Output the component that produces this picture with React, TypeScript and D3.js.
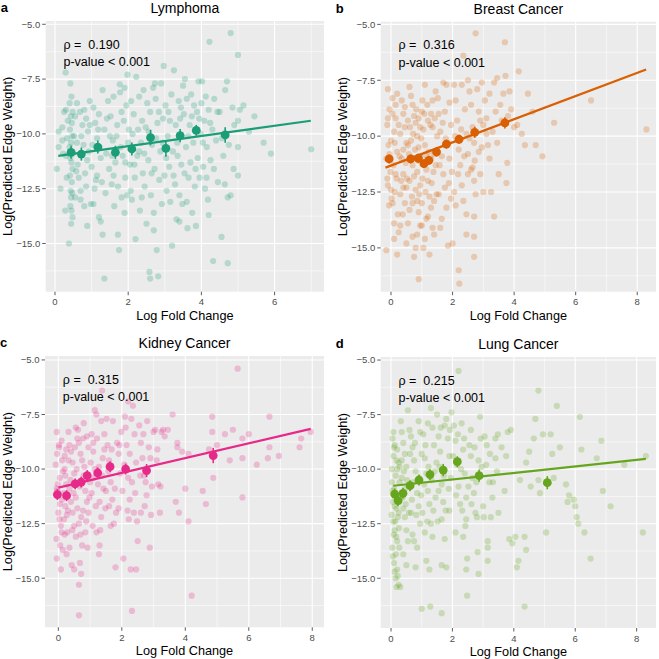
import * as d3 from "d3";
import React from "react";

type Pt = [number, number];
type Mean = [number, number, number];

const titles = ["Lymphoma", "Breast Cancer", "Kidney Cancer", "Lung Cancer"];
const letters = ["a", "b", "c", "d"];
const rhos = ["0.190", "0.316", "0.315", "0.215"];
const colors = ["#1b9e77", "#d95f02", "#e7298a", "#66a61e"];
const xTicksA = [0, 2, 4, 6];
const xTicksB = [0, 2, 4, 6, 8];
const yTicks = [-5, -7.5, -10, -12.5, -15];

// Lymphoma
const pointsA: Pt[] = [
  [0.42,-7.7],[0.45,-8.3],[0.4,-8.6],[0.48,-9.0],[0.43,-9.2],[0.46,-9.5],[0.41,-9.8],[0.47,-10.1],[0.44,-10.4],[0.4,-10.6],
  [0.49,-10.9],[0.42,-11.1],[0.45,-11.3],[0.48,-11.6],[0.41,-11.9],[0.46,-12.2],[0.43,-12.6],[0.47,-12.7],[0.44,-12.9],[0.42,-13.3],
  [0.45,-13.5],[0.48,-13.8],[0.44,-14.1],
  [0.05,-11.6],[0.1,-10.6],[0.15,-12.5],[0.2,-9.7],[0.25,-9.0],[0.28,-13.5],[0.3,-11.0],[0.35,-9.4],[0.2,-10.3],[0.32,-12.0],
  [0.38,-15.0],[0.3,-8.9],[0.1,-9.9],[0.29,-7.2],
  [0.55,-9.2],[0.6,-8.6],[0.62,-11.4],[0.65,-12.0],[0.7,-13.0],[0.75,-9.6],[0.78,-10.5],[0.8,-8.9],[0.82,-11.8],[0.85,-12.4],
  [0.88,-14.2],[0.9,-9.9],[0.92,-10.8],[0.95,-8.5],[0.98,-13.2],[1.0,-11.5],[0.7,-12.6],[0.6,-10.4],[0.85,-9.3],[0.55,-12.9],
  [1.05,-8.8],[1.1,-9.5],[1.12,-12.1],[1.15,-10.2],[1.2,-13.8],[1.25,-11.1],[1.3,-8.0],[1.3,-14.6],[1.35,-9.8],[1.38,-12.7],
  [1.4,-10.9],[1.45,-8.5],[1.48,-11.6],[1.35,-16.6],[1.2,-9.1],[1.05,-13.2],[1.15,-11.9],
  [1.52,-9.2],[1.55,-12.3],[1.58,-10.3],[1.6,-8.3],[1.62,-13.3],[1.65,-11.3],[1.7,-9.6],[1.72,-14.6],[1.75,-15.3],[1.78,-8.1],
  [1.8,-10.6],[1.82,-12.9],[1.85,-11.0],[1.88,-9.4],[1.9,-7.9],[1.92,-12.0],[1.95,-8.7],[1.97,-12.8],[1.98,-7.3],[1.6,-11.9],
  [1.77,-7.74],
  [2.02,-9.8],[2.05,-11.4],[2.08,-8.5],[2.1,-13.0],[2.12,-10.0],[2.15,-9.1],[2.18,-12.0],[2.2,-14.8],[2.22,-7.4],[2.25,-11.0],
  [2.3,-8.3],[2.32,-13.5],[2.35,-10.4],[2.38,-9.4],[2.4,-11.8],[2.42,-8.0],[2.45,-12.4],[2.48,-9.7],[2.5,-14.1],[2.3,-10.8],
  [2.52,-8.6],[2.55,-11.2],[2.58,-16.3],[2.6,-9.0],[2.62,-12.8],[2.65,-10.5],[2.68,-7.9],[2.7,-13.6],[2.72,-11.6],[2.75,-8.4],
  [2.78,-15.3],[2.8,-9.5],[2.82,-16.5],[2.85,-12.1],[2.88,-10.8],[2.9,-7.7],[2.92,-13.2],[2.95,-9.3],[2.97,-6.9],[2.99,-11.9],
  [2.6,-16.6],[2.73,-7.7],
  [3.02,-8.7],[3.05,-12.6],[3.08,-10.1],[3.1,-9.0],[3.12,-11.5],[3.15,-13.1],[3.18,-8.2],[3.2,-15.1],[3.22,-10.8],[3.25,-7.1],
  [3.28,-12.3],[3.3,-9.6],[3.32,-13.9],[3.35,-11.0],[3.38,-8.5],[3.4,-12.8],[3.42,-9.3],[3.45,-11.4],[3.48,-13.2],[3.5,-7.8],
  [3.4,-14.0],
  [3.52,-9.1],[3.55,-7.5],[3.58,-10.6],[3.6,-8.4],[3.62,-14.3],[3.65,-12.0],[3.68,-9.6],[3.7,-11.3],[3.72,-8.2],[3.75,-13.6],
  [3.78,-10.4],[3.8,-8.7],[3.82,-12.4],[3.85,-14.2],[3.88,-9.0],[3.9,-11.1],[3.92,-7.6],[3.95,-12.0],[3.98,-10.0],[4.0,-8.6],
  [4.02,-7.6],[4.05,-11.5],[4.08,-9.4],[4.1,-12.5],[4.12,-8.3],[4.15,-10.6],[4.18,-13.0],[4.2,-8.9],[4.22,-5.8],[4.25,-11.2],
  [4.3,-9.8],[4.32,-15.8],[4.35,-8.4],[4.4,-10.3],[4.45,-12.2],
  [4.5,-9.0],[4.55,-14.7],[4.6,-11.0],[4.65,-8.0],[4.7,-7.6],[4.72,-12.9],[4.72,-15.9],[4.75,-10.5],[4.8,-5.4],[4.8,-12.8],
  [4.85,-8.8],[4.88,-11.6],[4.9,-9.6],[5.0,-6.4],[5.0,-9.4],[5.0,-10.6],[5.05,-8.9],[5.15,-8.7],[5.0,-11.9],
  [5.45,-9.2],[5.7,-10.4],[5.9,-10.9],[7.0,-10.7],[5.3,-9.9],
  [0.22,-10.9],[0.33,-10.2],[0.52,-10.1],[0.58,-11.7],[0.68,-9.0],[0.72,-10.1],[0.88,-11.2],[0.95,-9.6],[1.02,-10.5],[1.08,-12.5],
  [1.18,-9.8],[1.22,-10.6],[1.28,-12.2],[1.42,-9.3],[1.5,-10.1],[1.56,-11.0],[1.68,-10.1],[1.72,-12.4],[1.82,-9.0],[1.92,-11.3],
  [2.0,-10.4],[2.07,-12.6],[2.17,-11.4],[2.27,-9.8],[2.37,-12.9],[2.44,-10.9],[2.56,-9.9],[2.64,-11.8],[2.76,-10.2],[2.84,-9.0],
  [2.94,-10.4],[3.04,-11.1],[3.14,-9.4],[3.24,-11.9],[3.34,-10.4],[3.44,-8.8],[3.54,-11.8],[3.64,-10.1],[3.74,-9.2],[3.84,-11.6],
  [3.94,-9.3],[4.04,-10.4],[4.14,-12.0],[4.24,-9.5],[4.34,-11.6],[4.44,-9.0],[4.56,-10.2],[4.64,-12.3],[0.8,-13.3],[1.25,-14.0],
  [1.9,-13.6],[2.7,-14.4],[3.6,-13.1],[4.2,-13.7],
];
const meansA: Mean[] = [
  [0.44,-10.84,0.3],[0.72,-10.92,0.3],[1.17,-10.6,0.3],[1.65,-10.84,0.3],[2.1,-10.69,0.3],
  [2.61,-10.17,0.35],[3.03,-10.66,0.38],[3.42,-10.08,0.3],[3.86,-9.84,0.25],[4.65,-10.05,0.35],
];
const fitA: Pt[] = [[0.09,-11.0],[6.99,-9.4]];

// Breast Cancer
const pointsB: Pt[] = [
  [-0.1,-7.9],[0.05,-8.3],[-0.05,-8.8],[0.15,-9.2],[-0.12,-9.5],[0.1,-9.8],[0.0,-10.2],[-0.08,-10.4],[0.2,-10.7],[-0.15,-11.0],
  [0.08,-11.3],[-0.02,-11.6],[0.18,-11.9],[-0.1,-12.2],[0.12,-12.5],[0.02,-12.8],[-0.06,-13.1],[0.22,-13.5],[0.1,-13.9],[0.25,-14.3],
  [-0.15,-15.1],[0.2,-15.3],[0.05,-9.0],[-0.05,-10.8],[0.15,-11.7],[0.0,-12.4],[0.25,-9.5],[0.2,-8.1],[-0.12,-11.9],[0.12,-10.3],
  [0.35,-8.4],[0.4,-9.0],[0.45,-9.6],[0.5,-10.3],[0.35,-11.0],[0.4,-11.7],[0.5,-12.3],[0.45,-13.0],[0.55,-13.9],[0.5,-14.8],
  [0.6,-7.8],[0.55,-9.3],[0.4,-10.6],[0.6,-12.0],[0.38,-13.5],[0.3,-12.6],
  [0.65,-8.2],[0.7,-8.6],[0.75,-9.1],[0.8,-9.4],[0.85,-10.0],[0.9,-10.5],[0.95,-10.9],[0.7,-11.3],[0.75,-11.8],[0.8,-12.4],
  [0.85,-12.9],[0.9,-13.4],[0.95,-14.0],[0.7,-14.5],[0.8,-15.0],[0.9,-16.4],[0.75,-15.4],[0.65,-10.2],[0.9,-9.2],[1.0,-8.9],
  [0.85,-11.6],[0.95,-12.2],[0.7,-13.0],
  [1.02,-8.4],[1.05,-9.7],[1.1,-10.4],[1.15,-11.5],[1.2,-12.0],[1.25,-12.7],[1.3,-13.2],[1.35,-14.1],[1.4,-14.4],[1.05,-15.0],
  [1.25,-15.3],[1.1,-7.7],[1.3,-9.0],[1.35,-9.6],[1.4,-10.8],[1.45,-11.3],[1.15,-13.7],[1.2,-9.3],[1.45,-8.0],[1.0,-13.0],
  [1.3,-11.0],[1.1,-14.6],
  [1.52,-8.3],[1.55,-9.0],[1.6,-9.8],[1.65,-10.9],[1.7,-11.7],[1.75,-12.3],[1.8,-13.2],[1.85,-14.9],[1.6,-14.1],[1.7,-7.6],
  [1.8,-7.7],[1.9,-8.5],[1.95,-9.5],[1.9,-11.0],[1.95,-12.8],[2.0,-14.8],[1.55,-12.6],[1.65,-13.7],[1.85,-10.3],[1.75,-8.9],
  [2.05,-7.7],[2.1,-8.4],[2.15,-9.3],[2.2,-10.6],[2.25,-11.3],[2.3,-12.2],[2.35,-12.9],[2.45,-13.5],[2.45,-14.4],[2.2,-16.0],
  [2.22,-16.6],[2.3,-7.7],[2.4,-8.8],[2.45,-9.9],[2.5,-10.8],[2.5,-11.7],[2.1,-13.1],[2.35,-6.4],[2.5,-7.5],[2.05,-12.5],
  [2.55,-8.0],[2.6,-8.6],[2.65,-9.6],[2.7,-10.3],[2.72,-11.1],[2.7,-12.0],[2.75,-12.6],[2.7,-13.6],[2.7,-14.5],[2.7,-15.4],
  [2.75,-5.4],[2.8,-7.9],[2.85,-8.9],[2.9,-9.3],[2.95,-10.5],[2.9,-11.7],[3.0,-12.5],[2.95,-7.6],[2.6,-11.5],
  [3.05,-8.4],[3.1,-9.2],[3.15,-10.4],[3.2,-11.0],[3.25,-12.5],[3.35,-13.6],[3.3,-9.8],[3.35,-7.6],[3.4,-8.9],[3.45,-10.3],
  [3.5,-11.7],[3.45,-7.4],[3.2,-8.1],[3.1,-9.9],
  [3.55,-8.6],[3.6,-9.3],[3.65,-8.1],[3.7,-5.8],[3.72,-7.3],[3.75,-12.1],[3.78,-11.2],[3.8,-9.1],[3.85,-8.0],[3.9,-8.8],
  [4.0,-9.6],[4.1,-9.5],[4.15,-7.1],[4.25,-9.9],
  [4.35,-10.4],[4.45,-8.1],[4.6,-8.9],[4.7,-10.4],[4.92,-10.9],[5.3,-9.4],[6.5,-8.4],[8.3,-9.7],
  [0.3,-9.9],[0.28,-10.9],[0.33,-12.0],[0.45,-8.7],[0.48,-11.2],[0.52,-11.9],[0.58,-10.8],[0.62,-9.6],[0.68,-12.7],[0.72,-9.9],
  [0.78,-10.6],[0.82,-8.8],[0.88,-11.1],[0.92,-12.6],[0.98,-10.1],[1.02,-11.9],[1.08,-9.0],[1.12,-12.5],[1.18,-8.6],[1.22,-10.7],
  [1.28,-9.5],[1.32,-12.1],[1.38,-11.6],[1.42,-9.2],[1.48,-12.6],[0.55,-10.4],[0.6,-13.3],[0.85,-14.4],[1.0,-14.0],[1.2,-13.6],
  [1.4,-12.9],[0.3,-14.0],[0.1,-14.6],[0.05,-13.0],[-0.1,-9.2],[0.15,-8.6],[0.4,-12.3],[0.65,-11.0],[0.95,-9.6],[1.15,-10.9],
  [1.35,-8.4],[1.5,-10.0],[1.58,-11.3],[1.68,-9.4],[1.78,-10.1],[1.88,-12.1],[1.98,-11.6],[2.08,-10.0],[2.18,-11.7],[2.28,-9.7],
  [2.38,-10.9],[2.55,-10.1],[2.65,-11.4],[2.85,-10.7],[3.0,-9.5],
];
const meansB: Mean[] = [
  [-0.06,-11.02,0.2],[0.64,-11.02,0.2],[0.89,-10.99,0.2],[1.07,-11.23,0.2],[1.23,-11.08,0.2],
  [1.48,-10.71,0.2],[1.8,-10.36,0.2],[2.21,-10.14,0.2],[2.72,-9.83,0.25],[3.7,-9.41,0.25],
];
const fitB: Pt[] = [[-0.18,-11.41],[8.29,-7.02]];

// Kidney Cancer
const pointsC: Pt[] = [
  [-0.05,-8.3],[0.1,-8.7],[0.02,-9.0],[0.2,-9.4],[-0.08,-9.8],[0.15,-10.1],[0.05,-10.4],[0.25,-10.7],[-0.03,-11.0],[0.12,-11.4],
  [0.22,-11.7],[0.0,-12.0],[0.18,-12.3],[0.08,-12.6],[0.28,-12.9],[-0.06,-13.2],[0.14,-13.7],[-0.05,-14.1],[0.08,-14.6],
  [0.2,-10.0],[0.05,-11.6],[0.25,-9.1],[0.1,-12.9],[-0.02,-10.7],
  [0.32,-8.3],[0.35,-8.9],[0.4,-9.2],[0.45,-9.7],[0.5,-10.2],[0.35,-10.9],[0.4,-11.5],[0.45,-12.0],[0.5,-12.6],[0.55,-13.1],
  [0.35,-13.6],[0.42,-14.4],[0.55,-8.1],[0.6,-8.6],[0.3,-11.9],[0.5,-14.6],[0.55,-11.3],
  [0.62,-8.2],[0.65,-8.8],[0.7,-9.3],[0.75,-9.6],[0.8,-10.3],[0.85,-11.0],[0.9,-11.5],[0.95,-12.0],[0.65,-12.5],[0.7,-13.0],
  [0.75,-13.5],[0.68,-14.3],[0.65,-15.3],[0.65,-16.7],[0.72,-14.8],[0.8,-7.9],[0.9,-8.5],[0.95,-9.0],[0.85,-12.9],[1.0,-10.6],
  [0.78,-11.9],[0.92,-13.6],
  [1.05,-8.4],[1.1,-9.2],[1.15,-7.3],[1.2,-7.5],[1.25,-10.7],[1.3,-11.5],[1.35,-12.2],[1.3,-13.5],[1.28,-13.9],[1.4,-9.5],
  [1.45,-8.4],[1.38,-6.4],[1.2,-12.9],[1.05,-11.1],[1.15,-10.0],[1.42,-10.9],[1.48,-11.8],[1.1,-8.8],[1.35,-7.8],
  [1.52,-7.7],[1.55,-8.9],[1.6,-9.6],[1.65,-10.6],[1.7,-11.4],[1.75,-12.5],[1.8,-14.5],[1.85,-8.8],[1.9,-9.3],[1.95,-10.2],
  [1.65,-12.6],[1.6,-11.7],[1.72,-7.8],[1.9,-11.8],[1.98,-8.3],
  [2.05,-14.1],[2.1,-7.6],[2.12,-8.1],[2.15,-8.9],[2.2,-10.4],[2.25,-11.4],[2.22,-12.3],[2.2,-6.9],[2.28,-14.6],[2.32,-16.5],
  [2.35,-7.1],[2.4,-8.4],[2.45,-9.7],[2.48,-12.4],[2.5,-13.3],[2.45,-14.6],[2.3,-7.7],[2.38,-12.0],[2.25,-9.3],
  [2.55,-8.0],[2.6,-8.8],[2.65,-9.5],[2.7,-10.3],[2.75,-10.6],[2.8,-7.8],[2.85,-9.0],[2.9,-9.5],[2.95,-10.8],[2.88,-13.6],
  [3.0,-8.3],[2.72,-11.7],[2.6,-12.0],
  [3.05,-8.2],[3.1,-9.6],[3.15,-10.7],[3.2,-12.0],[3.25,-8.3],[3.3,-8.2],[3.35,-8.5],[3.45,-8.2],
  [3.6,-7.5],[3.7,-11.5],[3.75,-8.8],[3.75,-9.0],[3.8,-12.0],[3.9,-9.2],[4.0,-10.9],[4.1,-9.3],[4.1,-12.4],[4.2,-15.8],
  [4.55,-11.0],[4.65,-11.6],[4.75,-9.1],[4.85,-7.6],[4.85,-8.3],[4.88,-10.4],[5.0,-8.9],
  [5.25,-8.4],[5.4,-9.6],[5.5,-8.2],[5.65,-5.4],[5.8,-8.6],[5.8,-11.3],[5.8,-9.5],[6.0,-8.4],[6.25,-9.8],[6.6,-9.5],
  [6.65,-7.6],[6.65,-9.0],[6.95,-9.4],[7.6,-9.0],[7.65,-8.6],[7.95,-8.3],
  [0.02,-8.9],[0.12,-9.6],[0.22,-10.3],[-0.05,-10.9],[0.17,-11.1],[0.27,-12.1],[0.04,-12.3],[0.2,-13.0],[0.06,-13.5],[0.26,-13.9],
  [-0.04,-9.3],[0.32,-9.6],[0.38,-10.5],[0.48,-11.1],[0.58,-10.0],[0.44,-12.8],[0.52,-9.0],[0.6,-11.8],[0.68,-10.8],[0.72,-12.2],
  [0.78,-8.6],[0.82,-9.9],[0.88,-12.4],[0.98,-11.3],[1.02,-9.7],[1.08,-12.6],[1.12,-10.4],[1.18,-11.7],[1.22,-8.6],[1.28,-9.9],
  [1.32,-12.8],[1.38,-10.3],[1.45,-9.1],[1.5,-11.0],[1.58,-10.1],[1.68,-9.1],[1.78,-10.9],[1.82,-12.0],[1.92,-8.9],[2.02,-11.0],
  [2.08,-9.8],[2.18,-11.9],[2.32,-10.6],[2.42,-11.1],[2.58,-10.3],[2.68,-8.4],[2.78,-11.2],[2.92,-12.1],[3.12,-9.1],[3.22,-10.8],
];
const meansC: Mean[] = [
  [-0.03,-11.17,0.25],[0.26,-11.22,0.25],[0.53,-10.68,0.25],[0.72,-10.6,0.25],[0.91,-10.3,0.25],
  [1.24,-10.18,0.25],[1.63,-9.89,0.25],[2.12,-10.0,0.25],[2.78,-10.07,0.3],[4.88,-9.38,0.35],
];
const fitC: Pt[] = [[0.0,-10.85],[7.95,-8.16]];

// Lung Cancer
const pointsD: Pt[] = [
  [0.05,-8.6],[0.12,-8.9],[0.2,-9.1],[0.08,-9.4],[0.25,-9.7],[0.03,-10.0],[0.15,-10.3],[0.28,-10.6],[0.1,-10.9],[0.22,-11.2],
  [0.06,-11.5],[0.18,-11.8],[0.02,-12.1],[0.14,-12.4],[0.26,-12.7],[0.09,-13.0],[0.2,-13.3],[0.04,-13.6],[0.16,-13.9],[0.1,-14.3],
  [0.2,-14.6],[0.15,-15.0],[0.18,-15.4],[0.25,-15.3],[0.22,-14.9],[0.1,-9.0],[0.2,-10.0],[0.05,-11.0],[0.25,-12.0],[0.12,-12.8],
  [0.32,-7.8],[0.35,-8.3],[0.4,-8.8],[0.45,-9.3],[0.5,-9.9],[0.35,-10.4],[0.4,-11.8],[0.45,-12.2],[0.5,-12.8],[0.55,-13.3],
  [0.4,-13.9],[0.5,-14.4],[0.3,-15.4],[0.55,-7.3],[0.6,-8.2],[0.45,-10.9],[0.58,-12.0],
  [0.65,-8.5],[0.7,-9.0],[0.75,-9.6],[0.8,-10.1],[0.85,-11.1],[0.9,-11.7],[0.95,-12.5],[0.7,-13.0],[0.75,-13.3],[0.85,-13.6],
  [0.8,-14.5],[0.9,-7.8],[0.95,-8.3],[0.65,-12.0],[1.0,-9.3],[0.72,-10.6],
  [1.05,-8.4],[1.1,-9.5],[1.15,-10.2],[1.2,-11.0],[1.25,-11.6],[1.3,-12.5],[1.35,-13.1],[1.0,-16.4],[1.15,-14.2],[1.25,-14.6],
  [1.28,-16.3],[1.3,-7.2],[1.35,-8.1],[1.4,-8.9],[1.45,-11.3],[1.1,-12.9],[1.2,-7.9],[1.48,-9.7],
  [1.5,-7.5],[1.55,-8.5],[1.6,-9.2],[1.65,-10.7],[1.7,-11.5],[1.65,-12.3],[1.75,-13.2],[1.65,-14.4],[1.65,-16.6],[1.8,-14.5],
  [1.8,-7.7],[1.85,-8.6],[1.9,-9.4],[1.95,-10.4],[1.9,-11.9],[1.97,-7.4],[1.75,-8.0],[1.55,-11.0],
  [2.05,-8.0],[2.1,-8.7],[2.15,-9.8],[2.2,-10.8],[2.25,-11.6],[2.1,-12.9],[2.2,-5.5],[2.3,-7.9],[2.35,-9.1],[2.4,-10.2],
  [2.45,-11.3],[2.45,-12.3],[2.35,-13.1],[2.48,-14.1],[2.48,-15.8],[2.45,-14.6],[2.42,-12.6],
  [2.55,-8.9],[2.6,-9.4],[2.65,-10.4],[2.7,-11.1],[2.75,-12.0],[2.8,-12.2],[2.82,-13.8],[2.85,-14.8],[2.9,-7.6],[2.95,-9.9],
  [3.0,-11.7],[2.6,-8.2],[2.85,-9.6],
  [3.05,-8.5],[3.1,-9.8],[3.15,-13.3],[3.15,-13.6],[3.15,-14.2],[3.2,-10.6],[3.25,-12.2],[3.3,-11.3],[3.4,-8.6],[3.4,-9.5],
  [3.5,-12.0],[3.45,-10.1],
  [3.6,-9.0],[3.75,-9.4],[3.85,-13.2],[3.9,-8.2],[3.95,-13.4],[4.05,-13.1],[4.1,-14.5],[4.15,-14.2],[4.2,-10.5],[4.35,-13.1],
  [4.4,-9.7],[4.4,-13.7],[4.5,-9.2],[4.55,-10.8],[4.65,-8.6],[4.7,-7.7],[4.8,-6.4],[4.8,-10.5],[4.85,-11.1],[4.95,-8.4],
  [5.05,-12.9],[5.2,-8.4],[5.25,-9.3],[5.3,-10.4],[4.35,-16.3],
  [5.4,-7.1],[5.5,-9.0],[5.7,-10.7],[5.75,-11.5],[5.8,-11.2],[5.95,-11.4],[6.0,-11.7],[6.05,-12.2],[6.1,-12.5],[6.15,-7.6],
  [6.2,-9.1],[6.3,-12.9],[6.5,-14.1],[6.7,-9.5],[6.85,-8.7],[6.9,-11.0],[7.15,-11.7],[7.6,-9.8],[8.2,-12.9],[8.3,-9.4],
  [0.08,-8.3],[0.18,-9.6],[0.28,-9.9],[0.03,-10.6],[0.12,-11.7],[0.27,-11.5],[0.07,-12.4],[0.22,-12.2],[0.17,-13.1],[0.27,-13.6],
  [0.06,-14.0],[0.12,-14.7],[0.35,-9.6],[0.42,-10.1],[0.38,-11.3],[0.52,-10.5],[0.48,-11.6],[0.62,-9.3],[0.68,-11.4],[0.78,-8.8],
  [0.82,-12.1],[0.92,-10.4],[0.98,-11.2],[1.02,-12.0],[1.08,-10.7],[1.12,-8.9],[1.18,-12.4],[1.22,-9.9],[1.32,-10.5],[1.38,-11.9],
  [1.42,-10.1],[1.52,-12.4],[1.58,-9.9],[1.62,-8.1],[1.72,-10.3],[1.78,-11.9],[1.88,-10.9],[1.92,-8.2],[2.02,-9.4],[2.12,-11.2],
  [2.18,-8.4],[2.28,-10.0],[2.32,-11.9],[2.38,-8.6],[2.52,-10.8],[2.62,-11.6],[2.72,-9.0],[2.78,-10.6],[2.92,-8.6],[3.02,-12.2],
  [3.12,-8.9],[3.22,-9.3],[3.32,-10.6],[3.48,-8.4],[3.7,-11.0],[3.8,-8.3],
];
const meansD: Mean[] = [
  [0.12,-11.14,0.25],[0.23,-11.44,0.25],[0.39,-11.11,0.25],[0.62,-10.76,0.25],[0.91,-10.5,0.25],
  [1.27,-10.25,0.25],[1.7,-10.04,0.28],[2.16,-9.66,0.25],[2.87,-10.3,0.28],[5.09,-10.62,0.3],
];
const fitD: Pt[] = [[0.07,-10.76],[8.3,-9.53]];

const allPoints = [pointsA, pointsB, pointsC, pointsD];
const allMeans = [meansA, meansB, meansC, meansD];
const allFits = [fitA, fitB, fitC, fitD];
const allXTicks = [xTicksA, xTicksB, xTicksB, xTicksB];

// panel frames in pixels, and axis domains
const frames = [
  { l: 45.7, r: 324, t: 21, b: 291.7, xd: [-0.254, 7.35], yd: [-17.2, -4.85] },
  { l: 380.7, r: 656, t: 21.7, b: 291.7, xd: [-0.335, 8.61], yd: [-16.96, -4.88] },
  { l: 45, r: 324, t: 356, b: 627.3, xd: [-0.42, 8.37], yd: [-17.25, -4.82] },
  { l: 380.7, r: 656, t: 357, b: 628, xd: [-0.336, 8.63], yd: [-17.28, -4.86] },
];

const FONT = "'Liberation Sans', Arial, Helvetica, sans-serif";
const fmtY = d3.format(".1f");

function Panel({ i }: { i: number }) {
  const f = frames[i];
  const x = d3.scaleLinear().domain(f.xd).range([f.l, f.r]);
  const y = d3.scaleLinear().domain(f.yd).range([f.b, f.t]);
  const color = colors[i];
  const xt = allXTicks[i];
  const xMinor = xt.map((d) => d + 1).filter((d) => d <= f.xd[1]);
  const yMinor = yTicks.map((d) => d - 1.25).filter((d) => d >= f.yd[0]);
  const line = d3.line<Pt>().x((d) => x(d[0])).y((d) => y(d[1]));
  const cx = (f.l + f.r) / 2;
  const cy = (f.t + f.b) / 2;

  return (
    <g>
      <rect x={f.l} y={f.t} width={f.r - f.l} height={f.b - f.t} fill="#ebebeb" />
      {xMinor.map((d) => (
        <line key={"xm" + d} x1={x(d)} x2={x(d)} y1={f.t} y2={f.b} stroke="#fff" strokeWidth={0.55} />
      ))}
      {yMinor.map((d) => (
        <line key={"ym" + d} x1={f.l} x2={f.r} y1={y(d)} y2={y(d)} stroke="#fff" strokeWidth={0.55} />
      ))}
      {xt.map((d) => (
        <line key={"xg" + d} x1={x(d)} x2={x(d)} y1={f.t} y2={f.b} stroke="#fff" strokeWidth={1.1} />
      ))}
      {yTicks.map((d) => (
        <line key={"yg" + d} x1={f.l} x2={f.r} y1={y(d)} y2={y(d)} stroke="#fff" strokeWidth={1.1} />
      ))}

      {allPoints[i].map((d, k) => (
        <circle key={k} cx={x(d[0])} cy={y(d[1])} r={3.1} fill={color} fillOpacity={0.26} />
      ))}

      <path d={line(allFits[i]) || ""} stroke={color} strokeWidth={2.2} fill="none" />

      {allMeans[i].map((d, k) => (
        <g key={"m" + k}>
          <line x1={x(d[0])} x2={x(d[0])} y1={y(d[1] - d[2])} y2={y(d[1] + d[2])} stroke={color} strokeWidth={1.6} />
          <circle cx={x(d[0])} cy={y(d[1])} r={4.4} fill={color} />
        </g>
      ))}

      <text x={f.l + 17.8} y={f.t + 27.5} fontSize={12.5} fontFamily={FONT} fill="#000" xmlSpace="preserve" style={{ whiteSpace: "pre" }}>
        {"ρ =  " + rhos[i]}
      </text>
      <text x={f.l + 17.8} y={f.t + 45.3} fontSize={12.5} fontFamily={FONT} fill="#000">
        {"p-value < 0.001"}
      </text>

      {yTicks.map((d) => (
        <g key={"yt" + d}>
          <line x1={f.l - 3.5} x2={f.l} y1={y(d)} y2={y(d)} stroke="#333" strokeWidth={0.8} />
          <text x={f.l - 5.5} y={y(d)} dy="0.35em" textAnchor="end" fontSize={9.5} fontFamily={FONT} fill="#4d4d4d">
            {fmtY(d)}
          </text>
        </g>
      ))}
      {xt.map((d) => (
        <g key={"xt" + d}>
          <line x1={x(d)} x2={x(d)} y1={f.b} y2={f.b + 3.5} stroke="#333" strokeWidth={0.8} />
          <text x={x(d)} y={f.b + 13.6} textAnchor="middle" fontSize={9.5} fontFamily={FONT} fill="#4d4d4d">
            {d}
          </text>
        </g>
      ))}

      <text x={cx} y={f.b + 28} textAnchor="middle" fontSize={12.7} fontFamily={FONT} fill="#000">
        Log Fold Change
      </text>
      <text
        transform={`translate(${f.l - 33.5},${cy}) rotate(-90)`}
        textAnchor="middle"
        fontSize={12.7}
        fontFamily={FONT}
        fill="#000"
      >
        Log(Predicted Edge Weight)
      </text>
      <text x={cx} y={f.t - 8.2} textAnchor="middle" fontSize={14} fontFamily={FONT} fill="#000">
        {titles[i]}
      </text>
      <text x={f.l - 45} y={f.t - 9} fontSize={13} fontWeight="bold" fontFamily={FONT} fill="#000">
        {letters[i]}
      </text>
    </g>
  );
}

export default function App() {
  return (
    <svg
      width={659}
      height={659}
      style={{ position: "absolute", left: 0, top: 0, display: "block", background: "#fff" }}
    >
      {[0, 1, 2, 3].map((i) => (
        <Panel key={i} i={i} />
      ))}
    </svg>
  );
}
